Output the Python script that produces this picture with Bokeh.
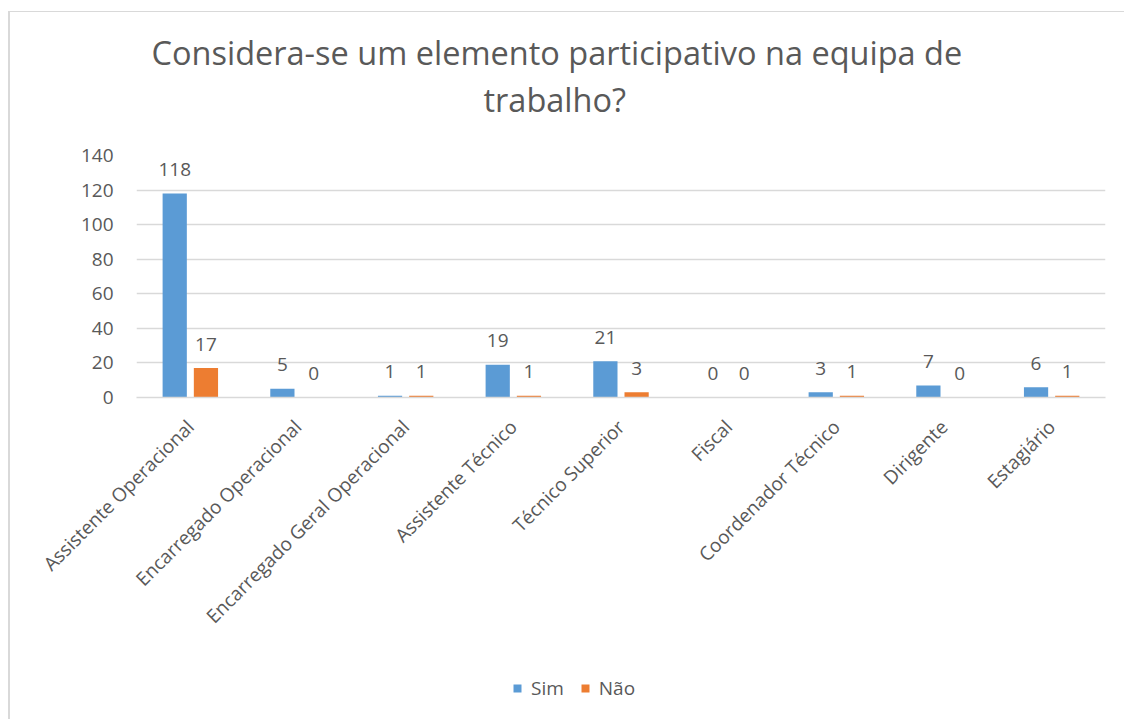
from bokeh.plotting import figure
from bokeh.layouts import column
from bokeh.models import (ColumnDataSource, FactorRange, Range1d, Title, Legend,
                          LegendItem, LabelSet, FixedTicker)
from bokeh.core.properties import value
from bokeh.transform import dodge
from bokeh.embed import file_html
from bokeh.resources import INLINE
from math import pi

categories = ["Assistente Operacional", "Encarregado Operacional",
              "Encarregado Geral Operacional", "Assistente Técnico",
              "Técnico Superior", "Fiscal", "Coordenador Técnico",
              "Dirigente", "Estagiário"]
sim = [118, 5, 1, 19, 21, 0, 3, 7, 6]
nao = [17, 0, 1, 1, 3, 0, 1, 0, 1]
series = ["Sim", "Não"]
colors = ["#5B9BD5", "#ED7D31"]
y_ticks = [0, 20, 40, 60, 80, 100, 120, 140]

FONT = "Open Sans"
TXT = "#595959"
GRID = "#d9d9d9"

p = figure(frame_width=969, frame_height=242,
           x_range=FactorRange(*categories, range_padding=0),
           y_range=Range1d(0, 140), output_backend="svg", toolbar_location=None,
           min_border_left=136, min_border_right=19, min_border_top=155,
           min_border_bottom=278)
p.outline_line_color = None
p.border_fill_color = None
p.background_fill_color = None
p.styles = {"background": "linear-gradient(#d9d9d9,#d9d9d9) 8px 11px / 100% 1px no-repeat, "
                          "linear-gradient(#d9d9d9,#d9d9d9) 8px 11px / 2px 100% no-repeat, white"}

src_sim = ColumnDataSource(dict(x=categories, v=sim, t=[str(v) for v in sim]))
src_nao = ColumnDataSource(dict(x=categories, v=nao, t=[str(v) for v in nao]))

r1 = p.vbar(x=dodge("x", -0.145, range=p.x_range), top="v", width=0.225, source=src_sim,
            color=colors[0], line_color=None)
r2 = p.vbar(x=dodge("x", 0.145, range=p.x_range), top="v", width=0.225, source=src_nao,
            color=colors[1], line_color=None)

for src, off in ((src_sim, -0.145), (src_nao, 0.145)):
    ls = LabelSet(x=dodge("x", off, range=p.x_range), y="v", text="t", source=src,
                  y_offset=24, text_align="center", text_baseline="middle",
                  text_font=value(FONT), text_font_size="19px", text_color=TXT)
    p.add_layout(ls)

# axes
p.yaxis.ticker = FixedTicker(ticks=y_ticks)
p.yaxis.axis_line_color = None
p.yaxis.major_tick_line_color = None
p.yaxis.minor_tick_line_color = None
p.yaxis.major_label_text_font = FONT
p.yaxis.major_label_text_font_size = "19px"
p.yaxis.major_label_text_color = TXT
p.yaxis.major_label_standoff = 17

p.xaxis.axis_line_color = GRID
p.xaxis.axis_line_width = 1.5
p.xaxis.major_tick_line_color = None
p.xaxis.minor_tick_line_color = None
p.xaxis.major_label_orientation = pi / 4
p.xaxis.major_label_text_font = FONT
p.xaxis.major_label_text_font_size = "19px"
p.xaxis.major_label_text_color = TXT
p.xaxis.major_label_standoff = 20

p.xgrid.grid_line_color = None
p.ygrid.grid_line_color = GRID
p.ygrid.grid_line_width = 1.5

# title (two lines, stacked)
p.title.visible = False
t2 = Title(text="trabalho?", align="left", text_font=FONT, text_font_size="32.5px",
           text_font_style="normal", text_color=TXT, standoff=68, offset=347)
t1 = Title(text="Considera-se um elemento participativo na equipa de", align="left",
           text_font=FONT, text_font_size="32.5px", text_font_style="normal",
           text_color=TXT, standoff=-68, offset=15)
p.add_layout(t2, "above")
p.add_layout(t1, "above")

# legend strip below the chart (same series, drawn out of view; only the legend shows)
lg = figure(width=1124, height=44, x_range=FactorRange(*categories, range_padding=0),
            y_range=Range1d(500, 600), output_backend="svg", toolbar_location=None,
            min_border=0, x_axis_location=None, y_axis_location=None)
lg.outline_line_color = None
lg.grid.visible = False
lg.border_fill_color = None
lg.background_fill_color = None
lg.styles = {"background": "linear-gradient(#d9d9d9,#d9d9d9) 8px 0px / 2px 100% no-repeat, white"}
k1 = lg.vbar(x=dodge("x", -0.145, range=lg.x_range), top="v", width=0.225, source=src_sim,
             color=colors[0], line_color=None)
k2 = lg.vbar(x=dodge("x", 0.145, range=lg.x_range), top="v", width=0.225, source=src_nao,
             color=colors[1], line_color=None)
legend = Legend(items=[LegendItem(label=series[0], renderers=[k1]),
                       LegendItem(label=series[1], renderers=[k2])],
                orientation="horizontal", location=(376, 18),
                label_text_font=FONT, label_text_font_size="19px", label_text_color=TXT,
                glyph_width=10, glyph_height=10, spacing=16, label_standoff=9,
                border_line_color=None, background_fill_alpha=0, margin=0, padding=0)
lg.add_layout(legend, "center")

layout = column(p, lg, spacing=0)
open("out.html", "w").write(file_html(layout, INLINE))
